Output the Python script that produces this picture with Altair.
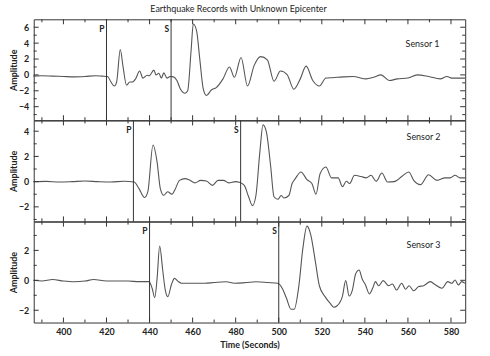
import altair as alt
import pandas as pd

# ---------------- data ----------------
t1 = [386, 390, 395, 400, 405, 410, 415, 418, 420.5, 422.1, 423.6, 424.7, 426.4, 427.7, 429.3,
      430.8, 432, 433.6, 435.4, 436.9, 438.9, 439.8, 442, 443, 444.3, 445.5, 446.6, 448.1,
      449.6, 451.1, 452.7, 454.2, 456.5, 457.7, 459.3, 460.3, 461.8, 463.4, 464.9, 466.4,
      468.7, 471, 474.1, 477.1, 479.4, 482.5, 485.5, 488.6, 491.6, 494.7, 497.8, 500.8,
      503.9, 507, 510, 512.7, 515.8, 518.9, 521.9, 525, 529.9, 534.5, 540.6, 544, 547.5,
      551.3, 555.1, 560, 564.3, 569.6, 575, 578.1, 580.3, 586.5]
a1 = [-0.15, -0.1, -0.15, -0.2, -0.25, -0.2, -0.1, -0.15, -0.2, -0.9, -1.4, -0.9, 3.2, 1.0, -1.3,
      -0.9, -0.9, -0.46, 0.5, -0.4, -0.05, -0.1, 0.6, 0.0, 0.2, -0.4, 0.25, -0.4,
      -0.2, -0.25, -0.7, -1.7, -2.3, -2.0, 3.1, 6.4, 5.6, 1.8, -1.7, -2.6,
      -1.9, -1.6, -0.5, 1.0, -0.3, 2.2, -1.4, 1.2, 2.3, 1.9, -0.8, 0.5,
      0.04, -1.8, -0.5, 1.1, -0.7, -1.4, -0.4, -0.35, -0.25, -0.2, -0.5, -0.3, 0.0,
      -0.7, -0.5, -0.4, 0.0, -0.2, -0.5, -0.2, -0.4, -0.4]

t2 = [386, 392, 398, 404, 410, 416, 422, 428.2, 432.8, 435.1, 437.7, 439.2, 441.6, 443.5, 445,
      446.6, 448.4, 450.4, 451.9, 453.9, 456.5, 458.8, 461.1, 463.7, 466.4, 469.2, 471.8,
      474.3, 476.8, 479.9, 481.7, 484, 486, 487.8, 489.4, 491.2, 492.7, 494.3, 496.2,
      497.8, 499.6, 501.1, 502.4, 504.7, 506.2, 507.7, 510.3, 513.1, 515.4, 517.3, 519.2,
      521.9, 524.5, 527.6, 529.6, 531.4, 532.9, 535.2, 538.3, 540.6, 542.9, 545.2, 547.9,
      550.5, 553.6, 557.4, 560.4, 562.7, 565.8, 569.6, 573.5, 577.3, 579.6, 581.9, 584.2, 586.5]
a2 = [0.0, 0.02, -0.03, 0.0, 0.05, 0.0, -0.03, 0.03, -0.03, -0.55, -1.26, -0.8, 2.9, 1.55, -0.55,
      -1.08, -0.8, -1.0, -0.6, 0.1, 0.24, 0.1, -0.1, 0.1, 0.05, -0.3, 0.1,
      0.1, -0.1, 0.0, -0.05, -0.3, -1.2, -1.9, -1.1, 2.3, 4.5, 3.9, 1.3,
      -1.2, -1.4, -1.1, -1.3, -1.1, -0.15, 0.24, 0.77, 0.16, -0.15, -1.0, 0.63,
      1.16, 0.3, 0.3, -0.4, 0.03, -0.15, 0.5, 0.4, 0.3, 0.5, 0.03, 0.68,
      -0.03, 0.0, 0.45, 0.77, 0.1, -0.24, 0.55, 0.1, 0.3, 0.3, 0.5, 0.3, 0.3]

t3 = [386, 390, 395, 400, 405, 410, 414, 420, 425, 430, 435.1, 439.7, 441.2, 442.4, 443.5,
      444.7, 446.1, 447.3, 448.5, 450.1, 451.6, 453.1, 454.9, 460, 465.7, 470, 475.6, 479.5,
      485, 489.4, 495, 499.6, 501.6, 503.6, 505.7, 507.2, 509.3, 511.2, 513.1, 514.9,
      516.9, 518.9, 521.5, 523.8, 525.6, 527.1, 529.6, 531.1, 532.7, 534.2, 535.7, 537.3,
      538.8, 540.3, 542.1, 543.7, 544.9, 546.4, 548.5, 551, 552.8, 554.7, 557.1, 558.9,
      560.5, 562.7, 565, 567.3, 570.4, 572.7, 575.8, 578.5, 580.4, 581.9, 583.4, 585, 586.5]
a3 = [0.0, -0.05, 0.05, -0.05, -0.1, -0.05, 0.05, -0.05, -0.05, -0.05, -0.09, -0.09, -0.53, -1.16, 0.13,
      2.29, 0.69, -0.65, -1.09, -0.31, 0.13, -0.05, -0.2, -0.2, -0.2, -0.15, -0.1, -0.2,
      -0.15, -0.1, -0.15, -0.2, -0.53, -1.2, -1.93, -1.93, -0.42, 2.13, 3.62, 3.02,
      1.35, -0.38, -1.09, -1.53, -1.8, -1.7, -1.05, -0.02, -1.05, -0.65, 0.42, 0.69,
      0.07, -0.31, -0.91, -0.5, -0.09, -0.36, -0.02, -0.36, -0.25, -0.65, -0.2, -0.6,
      -0.36, -0.7, -0.42, -0.36, -0.09, -0.3, -0.53, -0.09, -0.2, 0.02, -0.31, -0.09, -0.2]

p_times = [420, 432.5, 440]
s_times = [450, 482.3, 500]
sensor_names = ["Sensor 1", "Sensor 2", "Sensor 3"]
y_domains = [[-5.7, 7.0], [-3.15, 4.85], [-2.82, 3.92]]
y_labels = [[-4, -2, 0, 2, 4, 6], [-2, 0, 2, 4], [-2, 0, 2]]
y_minor = [[-5, -3, -1, 1, 3, 5], [-3, -1, 1, 3], [-1, 1, 3]]
x_domain = [386.2, 586.6]
x_major = [400, 420, 440, 460, 480, 500, 520, 540, 560, 580]
x_minor = [390, 410, 430, 450, 470, 490, 510, 530, 550, 570]

title_text = "Earthquake Records with Unknown Epicenter"
x_title = "Time (Seconds)"
y_title = "Amplitude"

# ---------------- layout / style ----------------
W, H = 435, 101.7
FONT = "Lato"
label_pos = [(392, 25), (393, 17), (393, 23.5)]

series = [(t1, a1), (t2, a2), (t3, a3)]
xs = alt.Scale(domain=x_domain, nice=False, zero=False)


def panel(i, last):
    t, a = series[i]
    df = pd.DataFrame({"t": t, "a": a})
    ys = alt.Scale(domain=y_domains[i], nice=False, zero=False)
    if last:
        xaxis = alt.Axis(values=x_major, ticks=False, domain=False, grid=False,
                         labelPadding=5, labelFontSize=9, labelFont=FONT,
                         labelFontWeight="bold", labelColor="#222",
                         title=x_title, titleFont=FONT, titleFontSize=9,
                         titleFontWeight="bold", titleColor="#222", titlePadding=4)
    else:
        xaxis = None
    yaxis = alt.Axis(values=y_labels[i], ticks=False, domain=False, grid=False,
                     labelPadding=5, labelFontSize=9, labelFont=FONT,
                     labelFontWeight="bold", labelColor="#222",
                     title=y_title, titleFont=FONT, titleFontSize=9,
                     titleFontWeight="bold", titleColor="#222", titlePadding=3,
                     minExtent=12, maxExtent=12)

    def X(f):
        return alt.X(f, scale=xs, axis=xaxis, title=x_title)

    def Y(f):
        return alt.Y(f, scale=ys, axis=yaxis, title=y_title)

    line = alt.Chart(df).mark_line(color="#555", strokeWidth=1.1, interpolate="monotone").encode(
        x=X("t:Q"), y=Y("a:Q"),
    )

    arr = pd.DataFrame({"time": [p_times[i], s_times[i]], "lab": ["P", "S"]})
    arr_rule = alt.Chart(arr).mark_rule(color="#333", strokeWidth=1).encode(x=X("time:Q"))
    arr_text = alt.Chart(arr).mark_text(align="right", baseline="middle", dx=-2,
                                        font=FONT, fontSize=8.5, fontWeight="bold",
                                        color="#222").encode(
        x=X("time:Q"), y=alt.value(9.5), text="lab:N"
    )
    sdf = pd.DataFrame({"name": [sensor_names[i]]})
    stext = alt.Chart(sdf).mark_text(font=FONT, fontSize=9, color="#222",
                                     baseline="middle", align="center").encode(
        x=alt.value(label_pos[i][0]), y=alt.value(label_pos[i][1]), text="name:N"
    )

    # inward ticks on the frame
    xmaj = pd.DataFrame({"v": x_major})
    xmin = pd.DataFrame({"v": x_minor})
    ticks = []
    for d, ln in ((xmaj, 5), (xmin, 3)):
        ticks.append(alt.Chart(d).mark_rule(color="#333").encode(
            x=X("v:Q"), y=alt.value(0), y2=alt.value(ln)))
        ticks.append(alt.Chart(d).mark_rule(color="#333").encode(
            x=X("v:Q"), y=alt.value(H - ln), y2=alt.value(H)))
    ymaj = pd.DataFrame({"v": y_labels[i]})
    ymin = pd.DataFrame({"v": y_minor[i]})
    for d, ln in ((ymaj, 5), (ymin, 3)):
        ticks.append(alt.Chart(d).mark_rule(color="#333").encode(
            y=Y("v:Q"), x=alt.value(0), x2=alt.value(ln)))
        ticks.append(alt.Chart(d).mark_rule(color="#333").encode(
            y=Y("v:Q"), x=alt.value(W - ln), x2=alt.value(W)))

    return alt.layer(line, arr_rule, arr_text, stext, *ticks).properties(width=W, height=H)


chart = alt.vconcat(
    panel(0, False), panel(1, False), panel(2, True), spacing=0, bounds="flush"
).properties(
    title=alt.TitleParams(title_text, font=FONT, fontSize=9, fontWeight="normal",
                          color="#222", anchor="middle", offset=4),
    padding={"left": 9, "top": 4, "right": 22, "bottom": 6},
    background="white",
).configure_view(stroke="#333", strokeWidth=1)

chart.save("out.html", embed_options={"renderer": "svg", "actions": False})
